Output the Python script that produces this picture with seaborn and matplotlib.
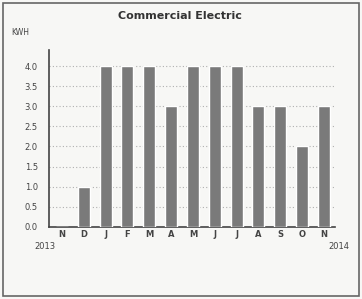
import numpy as np
import pandas as pd
import matplotlib
matplotlib.use('Agg')
import matplotlib.pyplot as plt
import seaborn as sns
from matplotlib.patches import Rectangle

months = ['N', 'D', 'J', 'F', 'M', 'A', 'M', 'J', 'J', 'A', 'S', 'O', 'N']
kwh = [0, 1, 4, 4, 4, 3, 4, 4, 4, 3, 3, 2, 3]
yticks = [0.0, 0.5, 1.0, 1.5, 2.0, 2.5, 3.0, 3.5, 4.0]

df = pd.DataFrame({'pos': np.arange(len(months)), 'kwh': kwh})

sns.set_style('white')
plt.rcParams['font.family'] = ['DejaVu Sans']
fig = plt.figure(figsize=(3.62, 2.99), dpi=100, facecolor='#f7f7f5')
ax = fig.add_axes([0.135, 0.241, 0.79, 0.592])
ax.set_facecolor('#f7f7f5')

sns.barplot(data=df, x='pos', y='kwh', color='#7a7a7a', width=0.55,
            saturation=1, ax=ax, native_scale=True, zorder=3)
ax.set_xlim(-0.6, 12.47)
ax.set_ylim(0, 4.4)
ax.set_yticks(yticks)
ax.set_yticklabels(['%.1f' % v for v in yticks], fontsize=6, color='#444444')
ax.set_xticks(np.arange(len(months)))
ax.set_xticklabels(months, fontsize=6, color='#444444', fontweight='bold')
ax.set_xticks(np.arange(len(months)) + 0.5, minor=True)
ax.tick_params(axis='x', which='major', length=0, pad=2)
ax.tick_params(axis='x', which='minor', length=3, color='#555555', direction='in')
ax.tick_params(axis='y', length=0, pad=8)
ax.set_xlabel('')
ax.set_ylabel('')
ax.yaxis.grid(True, linestyle=(0, (1, 2)), color='#b0b0b0', linewidth=0.8, zorder=0)
for s in ['top', 'right']:
    ax.spines[s].set_visible(False)
ax.spines['left'].set_color('#444444')
ax.spines['bottom'].set_color('#444444')
ax.spines['left'].set_linewidth(1.2)
ax.spines['bottom'].set_linewidth(1.2)

fig.text(0.497, 0.945, 'Commercial Electric', ha='center', va='center',
         fontsize=8, fontweight='bold', color='#333333')
fig.text(0.03, 0.89, 'KWH', ha='left', va='center', fontsize=5.5, color='#444444')
fig.text(0.095, 0.19, '2013', ha='left', va='top', fontsize=6, color='#444444')
fig.text(0.965, 0.19, '2014', ha='right', va='top', fontsize=6, color='#444444')

fig.patches.append(Rectangle((0.008, 0.01), 0.984, 0.98, transform=fig.transFigure,
                             fill=False, edgecolor='#666666', linewidth=1.2))

fig.savefig('out.png', dpi=100, facecolor=fig.get_facecolor())
